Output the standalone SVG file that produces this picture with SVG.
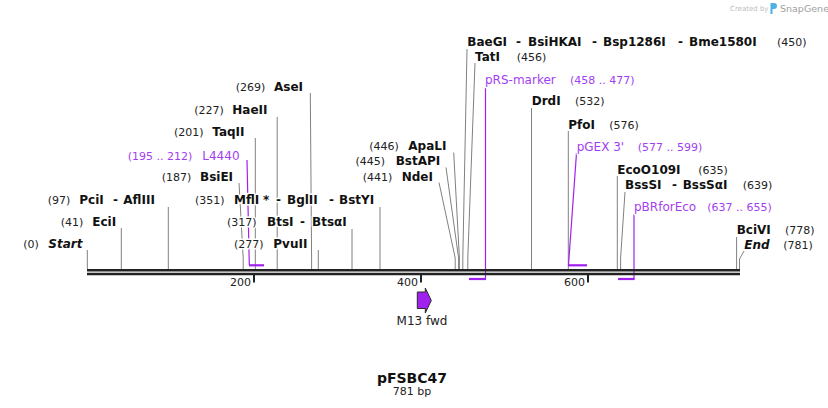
<svg xmlns="http://www.w3.org/2000/svg" width="828" height="408" viewBox="0 0 828 408">
<style>
text{font-family:"DejaVu Sans","Liberation Sans",sans-serif;paint-order:stroke;stroke:#fff;stroke-width:3px;stroke-linejoin:round}
.n{font-size:11px;fill:#222}
.b{font-size:12px;font-weight:bold;fill:#111}
.bi{font-size:12px;font-weight:bold;font-style:italic;fill:#111}
.pn{font-size:12px;fill:#a33ef0}
.pp{font-size:11px;fill:#a33ef0}
.site{fill:none;stroke:#808080;stroke-width:1}
.lead{fill:none;stroke:#a020f0;stroke-width:1.2}
.bar{stroke:#a020f0;stroke-width:2.2}
.bb{stroke:#222;stroke-width:2.4}
.tick{stroke:#222;stroke-width:2}
.wm{stroke:none}
</style>
<rect width="828" height="408" fill="#fff"/>
<g id="watermark">
<text class="wm" x="730" y="11" style="font-size:7px;fill:#bdbdbd">Created by</text>
<path class="wm" d="M770.5 3h3.5a3 3 0 0 1 0 6h-1.5v5h-2z" fill="#4fb0e6"/>
<text class="wm" x="780" y="11.5" style="font-size:9.5px;fill:#a0a0a0">SnapGene</text>
</g>
<g id="connectors">
<polyline class="site" points="87.3,250 87.3,269"/>
<polyline class="site" points="121.3,228 121.3,269"/>
<polyline class="site" points="168.3,207 168.3,269"/>
<polyline class="site" points="239,183 243.2,258 243.2,269"/>
<polyline class="site" points="255.3,138 255.3,269"/>
<polyline class="site" points="277.2,117 277.2,269"/>
<polyline class="site" points="310.3,93 311.6,258 311.6,269"/>
<polyline class="site" points="318.3,250 318.3,269"/>
<polyline class="site" points="352,229 352,269"/>
<polyline class="site" points="380,207 380,269"/>
<polyline class="site" points="439,182.5 455.2,258 455.2,269"/>
<polyline class="site" points="446,167.5 458.6,258 458.6,269"/>
<polyline class="site" points="453.7,152.5 459.4,258 459.4,269"/>
<polyline class="site" points="467,49 462.8,258 462.8,269"/>
<polyline class="site" points="475,63 467.8,258 467.8,269"/>
<polyline class="site" points="531.5,108 531.5,269"/>
<polyline class="site" points="568.3,131 568.3,269"/>
<polyline class="site" points="617.3,176 617.3,269"/>
<polyline class="site" points="625,192 620.6,258 620.6,269"/>
<polyline class="site" points="736.6,237 736.6,269"/>
<polyline class="site" points="744,251 739.5,259 739.5,269"/>
<polyline class="lead" points="247,160 249.3,265"/>
<line class="bar" x1="249" y1="265.3" x2="264" y2="265.3"/>
<polyline class="lead" points="485.5,87 485.5,279"/>
<line class="bar" x1="469" y1="279" x2="486" y2="279"/>
<polyline class="lead" points="576.5,153 568.5,265"/>
<line class="bar" x1="568" y1="265.3" x2="587" y2="265.3"/>
<polyline class="lead" points="634,214 634,279"/>
<line class="bar" x1="618" y1="279" x2="634.6" y2="279"/>
</g>
<g id="backbone">
<line class="bb" x1="87" y1="270.2" x2="740" y2="270.2"/>
<line class="bb" x1="87" y1="274" x2="740" y2="274"/>
<line class="tick" x1="254" y1="275" x2="254" y2="282.5"/>
<line class="tick" x1="421" y1="275" x2="421" y2="282.5"/>
<line class="tick" x1="588" y1="275" x2="588" y2="282.5"/>
<text class="n" x="251" y="286" text-anchor="end">200</text>
<text class="n" x="418" y="286" text-anchor="end">400</text>
<text class="n" x="585" y="286" text-anchor="end">600</text>
</g>
<g id="site-Start"><text y="248"><tspan class="n" x="23.3">(0)</tspan><tspan class="bi" x="48.3">Start</tspan></text></g>
<g id="site-EciI"><text y="226"><tspan class="n" x="60.7">(41)</tspan><tspan class="b" x="92.3">EciI</tspan></text></g>
<g id="site-PciI"><text y="203.5"><tspan class="n" x="47.7">(97)</tspan><tspan class="b" x="79.3">PciI</tspan><tspan class="b" x="113">-</tspan><tspan class="b" x="123.3">AflIII</tspan></text></g>
<g id="site-BsiEI"><text y="181.3"><tspan class="n" x="161.7">(187)</tspan><tspan class="b" x="200">BsiEI</tspan></text></g>
<g id="feature-L4440"><text y="159.5"><tspan class="pp" x="127.7">(195 .. 212)</tspan><tspan class="pn" x="202.3">L4440</tspan></text></g>
<g id="site-TaqII"><text y="136"><tspan class="n" x="174">(201)</tspan><tspan class="b" x="212.3">TaqII</tspan></text></g>
<g id="site-HaeII"><text y="114"><tspan class="n" x="194.3">(227)</tspan><tspan class="b" x="232.3">HaeII</tspan></text></g>
<g id="site-AseI"><text y="91"><tspan class="n" x="235.7">(269)</tspan><tspan class="b" x="274">AseI</tspan></text></g>
<g id="site-MflI"><text y="203.5"><tspan class="n" x="195">(351)</tspan><tspan class="b" x="234">MflI</tspan><tspan class="b" x="263">*</tspan><tspan class="b" x="276">-</tspan><tspan class="b" x="287">BglII</tspan><tspan class="b" x="329">-</tspan><tspan class="b" x="339">BstYI</tspan></text></g>
<g id="site-BtsI"><text y="226"><tspan class="n" x="227">(317)</tspan><tspan class="b" x="267">BtsI</tspan><tspan class="b" x="300">-</tspan><tspan class="b" x="312">BtsαI</tspan></text></g>
<g id="site-PvuII"><text y="248"><tspan class="n" x="234">(277)</tspan><tspan class="b" x="273.3">PvuII</tspan></text></g>
<g id="site-ApaLI"><text y="150"><tspan class="n" x="369.3">(446)</tspan><tspan class="b" x="408.3">ApaLI</tspan></text></g>
<g id="site-BstAPI"><text y="165.3"><tspan class="n" x="355.5">(445)</tspan><tspan class="b" x="395.7">BstAPI</tspan></text></g>
<g id="site-NdeI"><text y="180.5"><tspan class="n" x="362.7">(441)</tspan><tspan class="b" x="401.7">NdeI</tspan></text></g>
<g id="site-BaeGI"><text y="46"><tspan class="b" x="467.3">BaeGI</tspan><tspan class="b" x="516">-</tspan><tspan class="b" x="528">BsiHKAI</tspan><tspan class="b" x="592">-</tspan><tspan class="b" x="603">Bsp1286I</tspan><tspan class="b" x="678">-</tspan><tspan class="b" x="689">Bme1580I</tspan><tspan class="n" x="777">(450)</tspan></text></g>
<g id="site-TatI"><text y="61"><tspan class="b" x="475">TatI</tspan><tspan class="n" x="516.7">(456)</tspan></text></g>
<g id="feature-pRS-marker"><text y="83.5"><tspan class="pn" x="485">pRS-marker</tspan><tspan class="pp" x="570">(458 .. 477)</tspan></text></g>
<g id="site-DrdI"><text y="105.3"><tspan class="b" x="531.7">DrdI</tspan><tspan class="n" x="575">(532)</tspan></text></g>
<g id="site-PfoI"><text y="128.5"><tspan class="b" x="568.3">PfoI</tspan><tspan class="n" x="609.3">(576)</tspan></text></g>
<g id="feature-pGEX3"><text y="151"><tspan class="pn" x="576.7">pGEX 3'</tspan><tspan class="pp" x="637.7">(577 .. 599)</tspan></text></g>
<g id="site-EcoO109I"><text y="173.5"><tspan class="b" x="617.3">EcoO109I</tspan><tspan class="n" x="698.3">(635)</tspan></text></g>
<g id="site-BssSI"><text y="188.5"><tspan class="b" x="625">BssSI</tspan><tspan class="b" x="672">-</tspan><tspan class="b" x="682.7">BssSαI</tspan><tspan class="n" x="742.7">(639)</tspan></text></g>
<g id="feature-pBRforEco"><text y="211"><tspan class="pn" x="634">pBRforEco</tspan><tspan class="pp" x="707.3">(637 .. 655)</tspan></text></g>
<g id="site-BciVI"><text y="233.5"><tspan class="b" x="736.7">BciVI</tspan><tspan class="n" x="785">(778)</tspan></text></g>
<g id="site-End"><text y="248.5"><tspan class="bi" x="744.3">End</tspan><tspan class="n" x="783.3">(781)</tspan></text></g>
<g id="feature-M13fwd">
<polygon points="417.3,292 425.3,292 425.3,288 431.3,300.5 425.3,313 425.3,308.5 417.3,308.5" fill="#a020f0" stroke="#2a2a2a" stroke-width="1"/>
<text class="n" x="422" y="325" text-anchor="middle" style="font-size:12px;stroke:none">M13 fwd</text>
</g>
<g id="title">
<text x="412" y="383" text-anchor="middle" style="font-size:14px;font-weight:bold;fill:#111;stroke:none">pFSBC47</text>
<text class="n" x="412" y="394.5" text-anchor="middle" style="stroke:none">781 bp</text>
</g>
</svg>
